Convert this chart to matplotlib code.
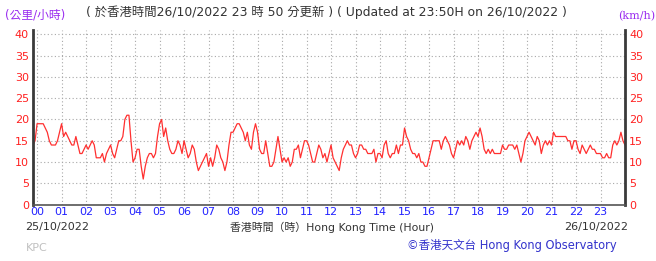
import numpy as np
import matplotlib
matplotlib.use('Agg')
import matplotlib.pyplot as plt

plt.rcParams['font.family'] = ['DejaVu Sans', 'Noto Sans CJK TC']

# 5-minute wind speed (km/h), starting 23:50 on 25/10/2022
speed_am = [14, 15,
            19, 19, 19, 19, 18, 17, 15, 14, 14, 14, 15, 17,
            19, 16, 17, 16, 15, 14, 14, 16, 14, 12, 12, 13,
            14, 13, 14, 15, 14, 11, 11, 11, 12, 10, 12, 13,
            14, 12, 11, 13, 15, 15, 16, 20, 21, 21, 15, 10,
            11, 13, 13, 9, 6, 9, 11, 12, 12, 11, 12, 16,
            19, 20, 16, 18, 15, 13, 12, 12, 13, 15, 14, 12,
            15, 13, 11, 12, 14, 13, 10, 8, 9, 10, 11, 12,
            9, 11, 9, 11, 14, 13, 11, 10, 8, 10, 14, 17,
            17, 18, 19, 19, 18, 17, 15, 17, 14, 13, 17, 19,
            17, 13, 12, 12, 15, 12, 9, 9, 10, 13, 16, 13,
            10, 11, 10, 11, 9, 10, 13, 13, 14, 11, 13, 15,
            15, 14, 12, 10, 10, 12, 14, 13, 11, 12, 10, 12]
speed_pm = [14, 11, 10, 9, 8, 11, 13, 14, 15, 14, 14, 12,
            11, 12, 14, 14, 13, 13, 12, 12, 12, 13, 10, 12,
            12, 11, 14, 15, 12, 11, 12, 12, 14, 12, 14, 14,
            18, 16, 15, 13, 12, 12, 11, 12, 10, 10, 9, 9,
            11, 13, 15, 15, 15, 15, 13, 15, 16, 15, 14, 12,
            11, 13, 15, 14, 15, 14, 16, 15, 13, 15, 16, 17,
            16, 18, 16, 13, 12, 13, 12, 13, 12, 12, 12, 12,
            14, 13, 13, 14, 14, 14, 13, 14, 12, 10, 12, 15,
            16, 17, 16, 15, 14, 16, 15, 12, 14, 15, 14, 15,
            14, 17, 16, 16, 16, 16, 16, 16, 15, 15, 13, 15,
            15, 13, 12, 14, 13, 12, 13, 14, 13, 13, 12, 12,
            12, 11, 11, 12, 11, 11, 14, 15, 14, 15, 17, 15, 14]
speed = speed_am + speed_pm
hours = -10 / 60 + np.arange(len(speed)) * 5 / 60

hour_labels = ['%02d' % h for h in range(24)]
y_ticks = [0, 5, 10, 15, 20, 25, 30, 35, 40]

W, H = 656, 261
fig = plt.figure(figsize=(W / 100, H / 100), dpi=100)
ax = fig.add_axes([33 / W, 1 - 204.6 / H, 592 / W, 174.5 / H])

ax.plot(hours, speed, color='#ff3030', lw=0.9)

ax.set_xlim(-1 / 6, 24)
ax.set_ylim(0, 41)
ax.set_xticks(range(24))
ax.set_xticklabels(hour_labels)
ax.set_yticks(y_ticks)
ax.grid(True, color='#a8a8a8', linestyle=(0, (1, 2.2)), lw=0.8)

for s in ['left', 'right']:
    ax.spines[s].set_color('#3a3a3a')
    ax.spines[s].set_linewidth(2)
ax.spines['bottom'].set_color('#555555')
ax.spines['bottom'].set_linewidth(1.2)
ax.spines['top'].set_visible(False)

ax.tick_params(axis='x', length=0, pad=1.5, labelsize=8, labelcolor='#2222ff')
ax.tick_params(axis='y', length=0, pad=3, labelsize=8, labelcolor='#ff2020',
               labelright=True)

def ftext(x, y, s, **kw):
    fig.text(x / W, 1 - y / H, s, va='center', **kw)

ftext(5, 15, '(公里/小時)', color='#9a2cf0', fontsize=8.5)
ftext(618, 16, '(km/h)', color='#9a2cf0', fontsize=8, family='DejaVu Serif')
ftext(86, 12, '( 於香港時間26/10/2022 23 時 50 分更新 ) ( Updated at 23:50H on 26/10/2022 )',
      color='#333333', fontsize=8.9)
ftext(25, 227, '25/10/2022', color='#333333', fontsize=8)
ftext(628, 227, '26/10/2022', color='#333333', fontsize=8, ha='right')
ftext(332, 227, '香港時間（時）Hong Kong Time (Hour)', color='#333333', fontsize=7.8, ha='center')
ftext(26, 248, 'KPC', color='#c0c0c0', fontsize=8)
ftext(617, 245, '©香港天文台 Hong Kong Observatory', color='#3333cc', fontsize=8.3, ha='right')

fig.savefig('out.png', dpi=100)
